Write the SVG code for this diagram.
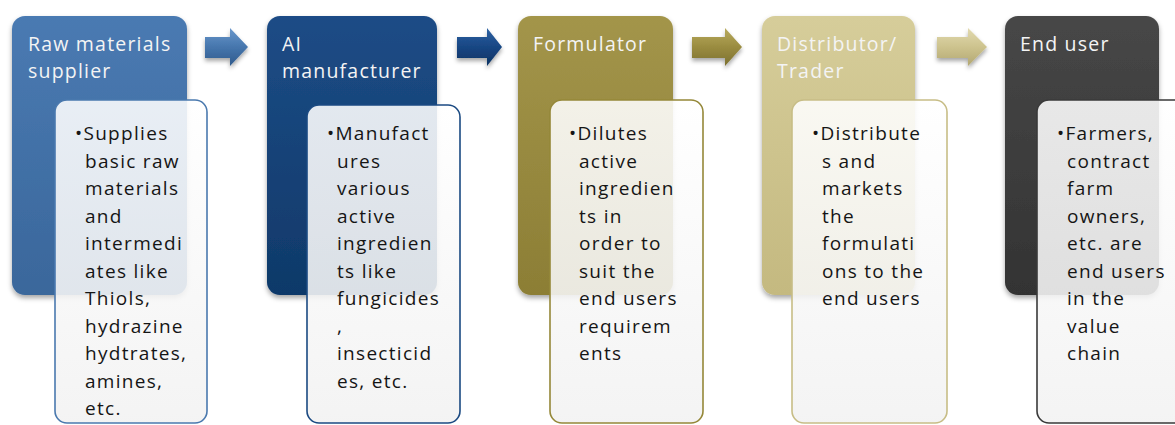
<svg xmlns="http://www.w3.org/2000/svg" width="1175" height="425" viewBox="0 0 1175 425">
<style>
.title{font-family:"Open Sans","Liberation Sans",sans-serif;font-size:19.5px;fill:#f4f4f4;letter-spacing:1.2px}
.body{font-family:"Open Sans","Liberation Sans",sans-serif;font-size:19px;fill:#151515;letter-spacing:1.3px}
.card{stroke-width:1.6}
</style>
<defs>
<filter id="sh" x="-20%" y="-20%" width="140%" height="140%"><feDropShadow dx="0" dy="3" stdDeviation="2.5" flood-color="#000" flood-opacity="0.35"/></filter>
<filter id="ash" x="-30%" y="-30%" width="160%" height="180%"><feDropShadow dx="0" dy="3" stdDeviation="2" flood-color="#000" flood-opacity="0.35"/></filter>
<linearGradient id="g1" x1="0" y1="0" x2="0" y2="1"><stop offset="0" stop-color="#4a7ab2"/><stop offset="1" stop-color="#3a679b"/></linearGradient>
<linearGradient id="g2" x1="0" y1="0" x2="0" y2="1"><stop offset="0" stop-color="#1d4c86"/><stop offset="1" stop-color="#0f3969"/></linearGradient>
<linearGradient id="g3" x1="0" y1="0" x2="0" y2="1"><stop offset="0" stop-color="#a3954a"/><stop offset="1" stop-color="#8c7e35"/></linearGradient>
<linearGradient id="g4" x1="0" y1="0" x2="0" y2="1"><stop offset="0" stop-color="#d6cd9a"/><stop offset="1" stop-color="#c4b980"/></linearGradient>
<linearGradient id="g5" x1="0" y1="0" x2="0" y2="1"><stop offset="0" stop-color="#474747"/><stop offset="1" stop-color="#333333"/></linearGradient>
<linearGradient id="gc" x1="0" y1="0" x2="0" y2="1"><stop offset="0" stop-color="#ffffff"/><stop offset="1" stop-color="#f2f2f2"/></linearGradient>
<linearGradient id="a1" x1="0" y1="0" x2="0" y2="1"><stop offset="0" stop-color="#6a98cc"/><stop offset="0.5" stop-color="#4676ad"/><stop offset="1" stop-color="#2f5a8c"/></linearGradient>
<linearGradient id="a2" x1="0" y1="0" x2="0" y2="1"><stop offset="0" stop-color="#2d62a3"/><stop offset="0.5" stop-color="#184683"/><stop offset="1" stop-color="#0c3262"/></linearGradient>
<linearGradient id="a3" x1="0" y1="0" x2="0" y2="1"><stop offset="0" stop-color="#b9ab5e"/><stop offset="0.5" stop-color="#9a8c40"/><stop offset="1" stop-color="#7c7030"/></linearGradient>
<linearGradient id="a4" x1="0" y1="0" x2="0" y2="1"><stop offset="0" stop-color="#e2dab0"/><stop offset="0.5" stop-color="#cdc38e"/><stop offset="1" stop-color="#b2a772"/></linearGradient>
</defs>

<g id="connectors">
<polygon filter="url(#ash)" fill="url(#a1)" points="205,37 230,37 230,28 248,47 230,66 230,58 205,58"/>
<polygon filter="url(#ash)" fill="url(#a2)" points="457,37 487,37 487,28 502,47 487,66 487,58 457,58"/>
<polygon filter="url(#ash)" fill="url(#a3)" points="692,37 725,37 725,28 742,47 725,66 725,58 692,58"/>
<polygon filter="url(#ash)" fill="url(#a4)" points="937,37 968,37 968,28 987,47 968,66 968,58 937,58"/>
</g>

<g id="node1">
<rect x="12" y="16" width="175" height="279" rx="13" fill="url(#g1)" filter="url(#sh)"/>
<text class="title" x="28" y="51">Raw materials</text>
<text class="title" x="28" y="78">supplier</text>
<rect class="card" x="55" y="100" width="152" height="323" rx="12" fill="url(#gc)" fill-opacity="0.88" stroke="#4a79ae"/>
<text class="body"><tspan x="75" y="140">•Supplies</tspan><tspan x="85" y="167.5">basic raw</tspan><tspan x="85" y="195">materials</tspan><tspan x="85" y="222.5">and</tspan><tspan x="85" y="250">intermedi</tspan><tspan x="85" y="277.5">ates like</tspan><tspan x="85" y="305">Thiols,</tspan><tspan x="85" y="332.5">hydrazine</tspan><tspan x="85" y="360">hydtrates,</tspan><tspan x="85" y="387.5">amines,</tspan><tspan x="85" y="415">etc.</tspan></text>
</g>

<g id="node2">
<rect x="267" y="16" width="170" height="279" rx="13" fill="url(#g2)" filter="url(#sh)"/>
<text class="title" x="282" y="51">AI</text>
<text class="title" x="282" y="78">manufacturer</text>
<rect class="card" x="307" y="105" width="153" height="318" rx="12" fill="url(#gc)" fill-opacity="0.88" stroke="#1b4a82"/>
<text class="body"><tspan x="327" y="140">•Manufact</tspan><tspan x="337" y="167.5">ures</tspan><tspan x="337" y="195">various</tspan><tspan x="337" y="222.5">active</tspan><tspan x="337" y="250">ingredien</tspan><tspan x="337" y="277.5">ts like</tspan><tspan x="337" y="305">fungicides</tspan><tspan x="337" y="332.5">,</tspan><tspan x="337" y="360">insecticid</tspan><tspan x="337" y="387.5">es, etc.</tspan></text>
</g>

<g id="node3">
<rect x="518" y="16" width="155" height="279" rx="13" fill="url(#g3)" filter="url(#sh)"/>
<text class="title" x="533" y="51">Formulator</text>
<rect class="card" x="550" y="100" width="153" height="323" rx="12" fill="url(#gc)" fill-opacity="0.88" stroke="#958839"/>
<text class="body"><tspan x="569" y="140">•Dilutes</tspan><tspan x="579" y="167.5">active</tspan><tspan x="579" y="195">ingredien</tspan><tspan x="579" y="222.5">ts in</tspan><tspan x="579" y="250">order to</tspan><tspan x="579" y="277.5">suit the</tspan><tspan x="579" y="305">end users</tspan><tspan x="579" y="332.5">requirem</tspan><tspan x="579" y="360">ents</tspan></text>
</g>

<g id="node4">
<rect x="762" y="16" width="153" height="279" rx="13" fill="url(#g4)" filter="url(#sh)"/>
<text class="title" x="777" y="51">Distributor/</text>
<text class="title" x="777" y="78">Trader</text>
<rect class="card" x="792" y="100" width="155" height="323" rx="12" fill="url(#gc)" fill-opacity="0.88" stroke="#c7bd86"/>
<text class="body"><tspan x="812" y="140">•Distribute</tspan><tspan x="822" y="167.5">s and</tspan><tspan x="822" y="195">markets</tspan><tspan x="822" y="222.5">the</tspan><tspan x="822" y="250">formulati</tspan><tspan x="822" y="277.5">ons to the</tspan><tspan x="822" y="305">end users</tspan></text>
</g>

<g id="node5">
<rect x="1005" y="16" width="154" height="279" rx="13" fill="url(#g5)" filter="url(#sh)"/>
<text class="title" x="1020" y="51">End user</text>
<rect class="card" x="1037" y="100" width="160" height="323" rx="12" fill="url(#gc)" fill-opacity="0.88" stroke="#3a3a3a"/>
<text class="body"><tspan x="1057" y="140">•Farmers,</tspan><tspan x="1067" y="167.5">contract</tspan><tspan x="1067" y="195">farm</tspan><tspan x="1067" y="222.5">owners,</tspan><tspan x="1067" y="250">etc. are</tspan><tspan x="1067" y="277.5">end users</tspan><tspan x="1067" y="305">in the</tspan><tspan x="1067" y="332.5">value</tspan><tspan x="1067" y="360">chain</tspan></text>
</g>
</svg>
